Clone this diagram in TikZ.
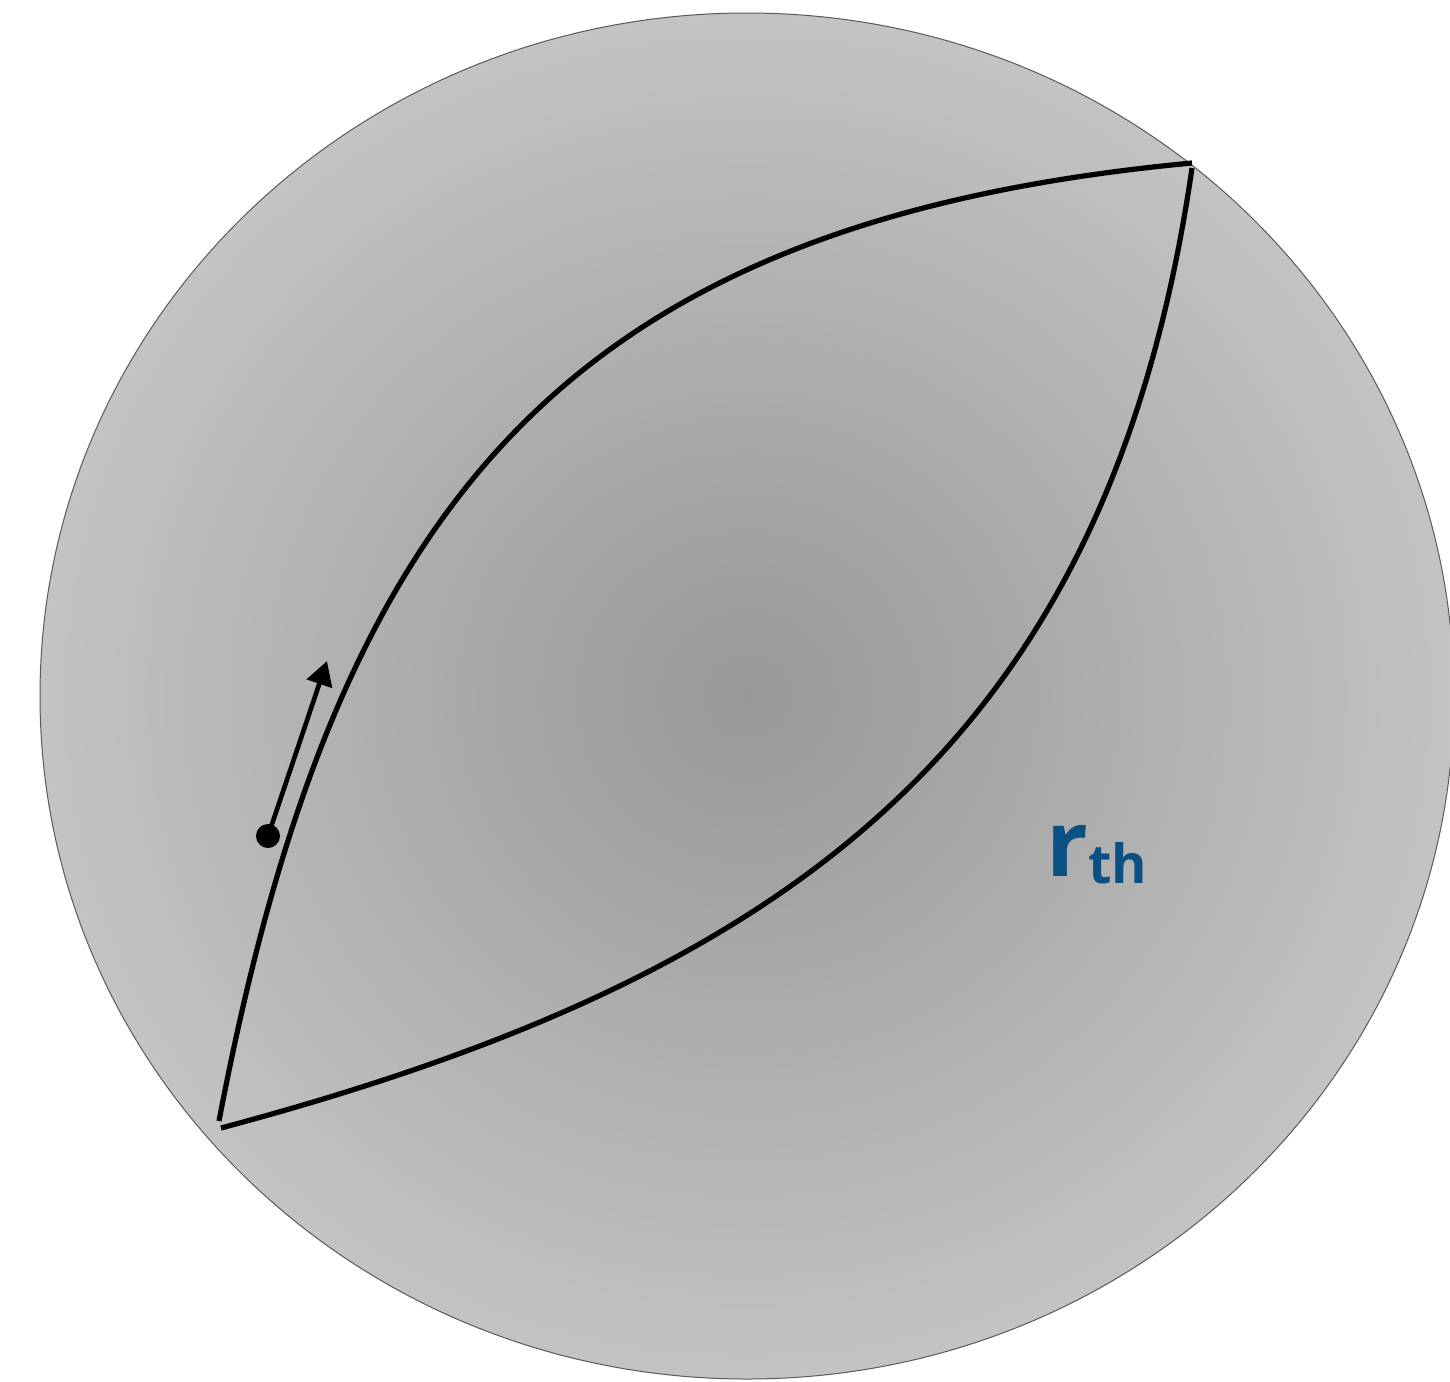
\documentclass[tikz,border=0pt]{standalone}
\usepackage{fontspec}
\setmainfont{Open Sans}
\usetikzlibrary{arrows.meta}
\definecolor{ballin}{RGB}{152,152,152}
\definecolor{ballout}{RGB}{195,195,195}
\definecolor{labelblue}{RGB}{10,80,130}
\pgfdeclareradialshading{ballshade}{\pgfpoint{0bp}{0bp}}{color(0bp)=(ballin); color(25bp)=(ballout); color(50bp)=(ballout)}
\begin{document}
\begin{tikzpicture}[x=0.5pt,y=-0.5pt,
  curve/.style={line width=2.6pt},
  rim/.style={line width=0.5pt, draw=black!65},
  dotnode/.style={circle, fill=black, minimum size=12pt, inner sep=0pt},
  vecarrow/.style={line width=2.3pt, -{Triangle[length=12pt,width=13pt]}},
  lbl/.style={anchor=base west, inner sep=0pt, text=labelblue, font=\bfseries}]
\useasboundingbox (0,0) rectangle (1450,1381);
\clip (0,0) rectangle (1450,1381);
\shade[shading=ballshade] (747,696) ellipse [x radius=707, y radius=683];
\draw[rim] (747,696) ellipse [x radius=707, y radius=683];
\coordinate (A1) at (219,1121);
\coordinate (B1) at (1192,163);
\coordinate (A2) at (221,1128);
\coordinate (B2) at (1192,168);
\draw[curve] (A1) .. controls (337,502) and (565,222) .. (B1);
\draw[curve] (A2) .. controls (786,977) and (1108,747) .. (B2);
\node[dotnode] (p) at (268,836) {};
\coordinate (tip) at (327,661);
\draw[vecarrow] (p.center) -- (tip);
\node[lbl] (rth) at (1046,876) {\fontsize{46pt}{46pt}\selectfont r\raisebox{-3.5pt}{\fontsize{27pt}{27pt}\selectfont th}};
\end{tikzpicture}
\end{document}
